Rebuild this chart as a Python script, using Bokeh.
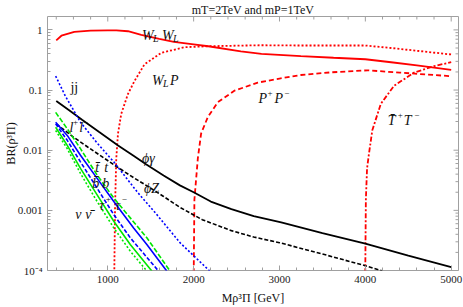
import math
from bokeh.plotting import figure
from bokeh.models import Range1d, Label, FixedTicker
from bokeh.embed import file_html
from bokeh.resources import INLINE

# ---------------- data ----------------
x_ww = [400, 460, 610, 800, 1000, 1100, 1235, 1390, 1600, 1770, 2000, 2170, 2550, 2790, 3250, 3630, 4000, 4300, 4600, 5000]
y_ww = [0.67, 0.80, 0.93, 0.975, 0.985, 0.98, 0.95, 0.83, 0.71, 0.63, 0.575, 0.535, 0.44, 0.40, 0.367, 0.344, 0.325, 0.29, 0.257, 0.217]

x_wp = [1076, 1085, 1099, 1119, 1157, 1235, 1312, 1428, 1622, 1893, 2165, 2785, 3250, 4000, 4300, 4600, 5000]
y_wp = [9e-5, 0.0012, 0.0073, 0.0189, 0.0403, 0.086, 0.142, 0.268, 0.415, 0.515, 0.535, 0.556, 0.55, 0.55, 0.50, 0.45, 0.39]

x_pp = [2001, 2009, 2049, 2087, 2165, 2281, 2474, 2747, 3000, 3250, 3600, 4026, 4400, 4700, 5000]
y_pp = [9e-5, 0.0015, 0.0073, 0.0189, 0.0355, 0.0626, 0.0975, 0.133, 0.155, 0.178, 0.197, 0.213, 0.195, 0.182, 0.17]

x_tt2 = [3999, 4006, 4020, 4041, 4081, 4180, 4335, 4568, 4800, 5000]
y_tt2 = [9e-5, 0.0015, 0.005, 0.0085, 0.0214, 0.059, 0.118, 0.195, 0.25, 0.29]

x_pg = [400, 550, 700, 900, 1120, 1300, 1450, 1650, 1840, 2000, 2200, 2440, 2700, 3020, 3500, 4000, 4500, 5000]
y_pg = [0.066, 0.046, 0.032, 0.02, 0.012, 0.0081, 0.0058, 0.0038, 0.0026, 0.0020, 0.0014, 0.00105, 8.0e-4, 6.3e-4, 4.2e-4, 2.8e-4, 1.76e-4, 1.14e-4]

x_pz = [400, 600, 770, 950, 1107, 1300, 1467, 1650, 1841, 2100, 2440, 2700, 3000, 3500, 4000, 4200]
y_pz = [0.0274, 0.0165, 0.0112, 0.0075, 0.0053, 0.0035, 0.0025, 0.0017, 0.00112, 7.0e-4, 4.6e-4, 3.6e-4, 2.9e-4, 1.88e-4, 1.2e-4, 9.8e-5]

x_jj = [393, 505, 682, 870, 1070, 1340, 1571, 1841, 2188]
y_jj = [0.171, 0.080, 0.0292, 0.0135, 0.0064, 0.00205, 8.5e-4, 2.9e-4, 9.8e-5]

x_ll = [393, 528, 682, 876, 1070, 1262, 1455, 1725]
y_ll = [0.0426, 0.0227, 0.0106, 0.00386, 0.0016, 7.5e-4, 3.5e-4, 9.8e-5]

x_top = [393, 528, 682, 876, 1070, 1301, 1455, 1687]
y_top = [0.0292, 0.0176, 0.00824, 0.0034, 0.0014, 5.1e-4, 2.7e-4, 9.8e-5]

x_bb = [393, 528, 682, 876, 1070, 1262, 1591]
y_bb = [0.0274, 0.0146, 0.0064, 0.00233, 8.5e-4, 3.5e-4, 9.8e-5]

x_tau = [393, 528, 682, 876, 1070, 1262, 1513]
y_tau = [0.0241, 0.012, 0.00498, 0.00181, 6.6e-4, 2.7e-4, 9.8e-5]

x_nu = [393, 528, 682, 876, 1070, 1262, 1455]
y_nu = [0.0213, 0.0106, 0.00411, 0.0014, 5.1e-4, 2.1e-4, 9.8e-5]

x_ticks = [1000, 2000, 3000, 4000, 5000]
x_minor = [400, 600, 800, 1200, 1400, 1600, 1800, 2200, 2400, 2600, 2800, 3200, 3400, 3600, 3800,
           4200, 4400, 4600, 4800]
y_ticks = [1e-4, 1e-3, 1e-2, 1e-1, 1]
y_tick_labels = {1e-4: "10\u207b\u2074", 1e-3: "0.001", 1e-2: "0.01", 1e-1: "0.1", 1: "1"}
y_minor = [m * 10.0 ** k for k in range(-4, 1) for m in range(2, 10)]

title_text = "mT=2TeV and mP=1TeV"
x_label = "M\u03c1\u00b3\u03a0 [GeV]"
y_label = "BR(\u03c1\u00b3\u03a0)"

# ---------------- figure ----------------
XMIN, XMAX = 298, 5085
YMIN, YMAX = 1e-4, 1.67
FONT = "Liberation Serif"
GRAY = "#a0a0a0"
W, H = 463, 307

p = figure(width=W, height=H, output_backend="svg", toolbar_location=None,
           x_range=Range1d(XMIN, XMAX), y_range=Range1d(YMIN, YMAX), y_axis_type="log",
           min_border_left=45, min_border_right=5, min_border_top=15, min_border_bottom=36)
p.grid.visible = False
p.outline_line_color = GRAY
p.background_fill_color = "white"
p.border_fill_color = "white"

p.title.text = title_text
p.title.align = "center"
p.title.text_font = FONT
p.title.text_font_size = "12px"
p.title.text_font_style = "normal"
p.title.text_color = "#111111"
p.title.standoff = 0

def style_axis(ax):
    ax.axis_line_color = None
    ax.major_tick_in = 5
    ax.major_tick_out = 0
    ax.minor_tick_in = 3
    ax.minor_tick_out = 0
    ax.major_tick_line_color = GRAY
    ax.minor_tick_line_color = GRAY
    ax.major_label_text_font = FONT
    ax.major_label_text_font_size = "11px"
    ax.major_label_text_color = "#222222"
    ax.major_label_standoff = 5
    ax.axis_label_text_font = FONT
    ax.axis_label_text_font_size = "12px"
    ax.axis_label_text_font_style = "normal"
    ax.axis_label_text_color = "#111111"

p.xaxis.ticker = FixedTicker(ticks=x_ticks, minor_ticks=x_minor)
p.yaxis.ticker = FixedTicker(ticks=y_ticks, minor_ticks=y_minor)
p.yaxis.major_label_overrides = y_tick_labels
style_axis(p.xaxis[0])
style_axis(p.yaxis[0])
p.xaxis.axis_label = x_label
p.xaxis.axis_label_standoff = 5
p.yaxis.axis_label = y_label
p.yaxis.axis_label_standoff = -3

# mirror ticks on top and right frame edges
p.scatter(x_ticks, [YMAX] * len(x_ticks), marker="dash", size=10, angle=math.pi / 2,
          line_color=GRAY, line_width=1)
p.scatter(x_minor, [YMAX] * len(x_minor), marker="dash", size=6, angle=math.pi / 2,
          line_color=GRAY, line_width=1)
p.scatter([XMAX] * len(y_ticks), y_ticks, marker="dash", size=10, line_color=GRAY, line_width=1)
p.scatter([XMAX] * len(y_minor), y_minor, marker="dash", size=6, line_color=GRAY, line_width=1)

# ---------------- lines ----------------
RED, BLUE, GREEN, BLACK = "#ff0000", "#0000ff", "#00e600", "#000000"
p.line(x_ww, y_ww, color=RED, line_width=1.8)
p.line(x_wp, y_wp, color=RED, line_width=1.8, line_dash="2 2")
p.line(x_pp, y_pp, color=RED, line_width=1.8, line_dash="5 3")
p.line(x_tt2, y_tt2, color=RED, line_width=1.8, line_dash="5 2 2 2")
p.line(x_pg, y_pg, color=BLACK, line_width=1.8)
p.line(x_pz, y_pz, color=BLACK, line_width=1.6, line_dash="4 2")
p.line(x_jj, y_jj, color=BLUE, line_width=1.6, line_dash="2 2")
p.line(x_ll, y_ll, color=GREEN, line_width=1.6, line_dash="5 2")
p.line(x_top, y_top, color=BLUE, line_width=1.6)
p.line(x_bb, y_bb, color=BLUE, line_width=1.6, line_dash="4 2")
p.line(x_tau, y_tau, color=GREEN, line_width=1.6)
p.line(x_nu, y_nu, color=GREEN, line_width=1.6, line_dash="2 2")

# ---------------- text annotations (positions given in reference page pixels) ----------------
FL, FR, FT, FB = 45, 458, 15, 271
def X(px):
    return XMIN + (px - FL) * (XMAX - XMIN) / (FR - FL)
def Y(py):
    lo, hi = math.log10(YMIN), math.log10(YMAX)
    return 10 ** (lo + (FB - py) * (hi - lo) / (FB - FT))

def lab(px, py, text, size=14, style="italic", angle=0.0):
    p.add_layout(Label(x=X(px), y=Y(py), text=text, text_font=FONT,
                       text_font_size=f"{size}px", text_font_style=style,
                       text_color="#111111", text_align="left", text_baseline="alphabetic",
                       angle=angle))

# curve labels
lab(140, 34, "W"); lab(151, 37, "L", 10); lab(160, 34, "W"); lab(171, 37, "L", 10)
lab(150, 80, "W"); lab(161, 83, "L", 10); lab(168, 80, "P")
lab(257, 98, "P"); lab(266, 92, "+", 9, "normal"); lab(273, 98, "P"); lab(283, 92, "\u2212", 9, "normal")
lab(387, 120, "T\u0304"); lab(397, 114, "+", 9, "normal"); lab(403, 120, "T"); lab(413.5, 114, "\u2212", 9, "normal")
lab(68, 87, "jj", 14, "normal")
lab(67, 126.5, "l"); lab(70.5, 121, "+", 9, "normal"); lab(77, 126.5, "l"); lab(80.5, 121, "\u2212", 9, "normal")
lab(140, 158, "\u03d5\u03b3")
lab(142, 188, "\u03d5Z")
lab(93, 166.7, "t\u0304"); lab(102, 166.7, "t")
lab(90, 183, "b\u0304"); lab(100, 183, "b")
lab(97, 205, "\u03c4"); lab(103.5, 199, "+", 9, "normal"); lab(113, 205, "\u03c4"); lab(119.5, 199, "\u2212", 9, "normal")
lab(73, 215, "\u03bd"); lab(83, 215, "\u03bd\u0304")

open("out.html", "w").write(file_html(p, INLINE))
